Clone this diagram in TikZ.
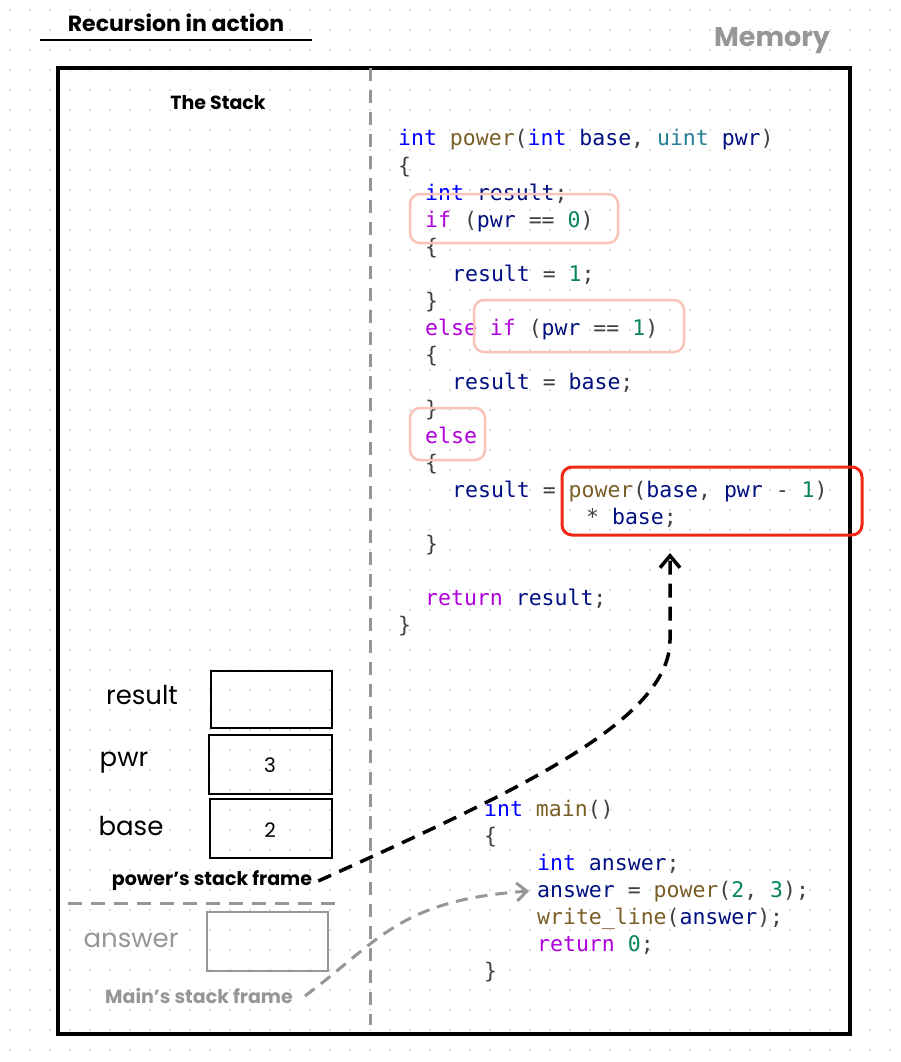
\documentclass[tikz,border=0pt]{standalone}
\usepackage{fontspec}
\setmainfont{Poppins}
\newfontfamily\codefont{DejaVu Sans Mono}
\usetikzlibrary{arrows.meta}
\definecolor{kw}{RGB}{0,0,255}
\definecolor{fn}{RGB}{121,94,38}
\definecolor{var}{RGB}{0,16,128}
\definecolor{ty}{RGB}{38,127,153}
\definecolor{ctl}{RGB}{175,0,219}
\definecolor{num}{RGB}{9,134,88}
\definecolor{hl}{RGB}{250,195,185}
\definecolor{hot}{RGB}{240,40,20}
\definecolor{dim}{RGB}{150,150,150}
\newcommand{\K}[1]{\textcolor{kw}{#1}}
\newcommand{\F}[1]{\textcolor{fn}{#1}}
\newcommand{\V}[1]{\textcolor{var}{#1}}
\newcommand{\T}[1]{\textcolor{ty}{#1}}
\newcommand{\C}[1]{\textcolor{ctl}{#1}}
\newcommand{\N}[1]{\textcolor{num}{#1}}
\tikzset{
  code/.style={anchor=base west,inner sep=0pt,font=\codefont\fontsize{21.5}{21.5}\selectfont,text=black!75},
  hand/.style={inner sep=0pt,font=\fontsize{26}{26}\selectfont},
  note/.style={inner sep=0pt,font=\bfseries\fontsize{19}{19}\selectfont},
  cell/.style={draw=black,line width=2.6pt},
  hlbox/.style={draw=hl,line width=2.5pt,rounded corners=10pt},
}
\begin{document}
\begin{tikzpicture}[x=1pt,y=-1pt]
    \useasboundingbox (0,0) rectangle (901,1062);
    \fill[white] (0,0) rectangle (901,1062);
    % dotted paper
    \foreach \i in {0,...,45}
      \foreach \j in {0,...,53}
        \fill[black!25] (\i*20+10,\j*20+10) circle (0.9);
    % title and frame
    \node[note,font=\bfseries\fontsize{22}{22}\selectfont] (title) at (176,23) {Recursion in action};
    \draw[line width=1.8pt] (40,40) -- (312,40);
    \node[note,text=dim,font=\bfseries\fontsize{27}{27}\selectfont] (memory) at (772,41) {Memory};
    \draw[line width=4pt] (58,68) rectangle (850,1034);
    \draw[dim,line width=3pt,dash pattern=on 13pt off 9pt] (370,68) -- (370,1025);
    \node[note] (stack) at (218,103) {The Stack};
    % function power
    \node[code] (l1) at (398,146) {\K{int} \F{power}(\K{int} \V{base}, \T{uint} \V{pwr})};
    \node[code] (l2) at (398,173) {\{};
    \node[code] (l3) at (425,200) {\K{int} \V{result};};
    \node[code] (l4) at (425,227) {\C{if} (\V{pwr} == \N{0})};
    \node[code] (l5) at (425,254) {\{};
    \node[code] (l6) at (452,281) {\V{result} = \N{1};};
    \node[code] (l7) at (425,308) {\}};
    \node[code] (l8) at (425,335) {\C{else} \C{if} (\V{pwr} == \N{1})};
    \node[code] (l9) at (425,362) {\{};
    \node[code] (l10) at (452,389) {\V{result} = \V{base};};
    \node[code] (l11) at (425,416) {\}};
    \node[code] (l12) at (425,443) {\C{else}};
    \node[code] (l13) at (425,470) {\{};
    \node[code] (l14) at (452,497) {\V{result} = \F{power}(\V{base}, \V{pwr} - \N{1})};
    \node[code] (l15) at (586,524) {* \V{base};};
    \node[code] (l16) at (425,551) {\}};
    \node[code] (l17) at (425,605) {\C{return} \V{result};};
    \node[code] (l18) at (398,632) {\}};
    % highlights
    \draw[hlbox] (410,194) rectangle (618,243);
    \draw[hlbox] (474,300) rectangle (684,352);
    \draw[hlbox] (410,408) rectangle (485,460);
    \draw[hot,line width=3pt,rounded corners=10pt] (562,467) rectangle (862,535);
    \coordinate (call) at (670,553);
    % function main
    \node[code] (m1) at (484,816) {\K{int} \F{main}()};
    \node[code] (m2) at (484,843) {\{};
    \node[code] (m3) at (537,870) {\K{int} \V{answer};};
    \node[code] (m4) at (537,897) {\V{answer} = \F{power}(\N{2}, \N{3});};
    \node[code] (m5) at (537,924) {\F{write\_line}(\V{answer});};
    \node[code] (m6) at (537,951) {\C{return} \N{0};};
    \node[code] (m7) at (484,978) {\}};
    % power's stack frame
    \draw[cell] (211,671) rectangle (332,728);
    \draw[cell] (209,735) rectangle (332,794);
    \draw[cell] (210,799) rectangle (332,858);
    \node[hand] (result) at (142,695) {result};
    \node[hand] (pwr) at (124,763) {pwr};
    \node[hand] (base) at (131,826) {base};
    \node[hand,font=\fontsize{20}{20}\selectfont] (three) at (270,765) {3};
    \node[hand,font=\fontsize{20}{20}\selectfont] (two) at (270,830) {2};
    \node[note] (frame) at (212,881) {power's stack frame};
    \draw[dim,line width=3pt,dash pattern=on 14pt off 9pt] (68,903) -- (340,903);
    % main's stack frame
    \draw[dim,line width=2.5pt] (207,912) rectangle (328,971);
    \node[hand,text=dim] (answer) at (131,940) {answer};
    \node[note,text=dim] (mainframe) at (199,996) {Main's stack frame};
    % calls
    \draw[line width=3.5pt,dash pattern=on 14pt off 9pt,-{Straight Barb[length=12pt,width=20pt]}]
      ([xshift=6pt]frame.east) .. controls (520,790) and (670,720) .. (670,640) -- (call);
    \draw[dim,line width=3pt,dash pattern=on 12pt off 8pt,-{Straight Barb[length=10pt,width=18pt]}]
      ([xshift=12pt]mainframe.east) .. controls (380,940) and (400,900) .. ([xshift=-8pt]m4.west);
\end{tikzpicture}
\end{document}
